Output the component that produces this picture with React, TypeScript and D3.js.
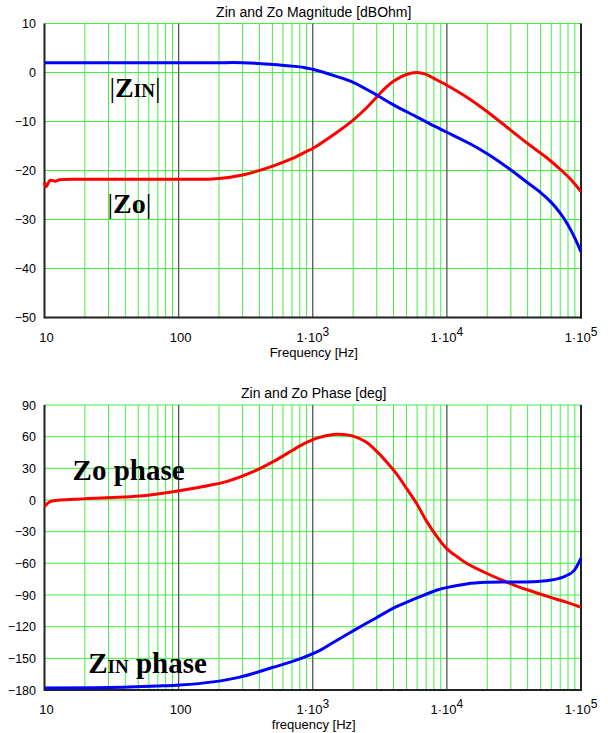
import React from "react";
import * as d3 from "d3";

// ---- Data: magnitude chart ----
const zinMagFreq = [10, 20, 50, 100, 190, 300, 480, 700, 800, 900, 1000, 1500, 2000, 3000, 4000, 6000, 8000, 10000, 15000, 20000, 30000, 40000, 50000, 60000, 70000, 80000, 90000, 100000];
const zinMag = [2.0, 2.0, 2.0, 2.0, 2.0, 2.0, 1.7, 1.3, 1.15, 0.9, 0.65, -0.8, -2.0, -4.6, -6.6, -9.1, -10.9, -12.2, -14.6, -16.6, -19.9, -22.5, -24.5, -26.5, -28.7, -31.1, -33.8, -36.6];
const zoMagFreq = [10, 10.3, 11, 12, 13, 20, 50, 100, 190, 300, 480, 700, 800, 900, 1000, 1500, 2000, 2500, 3000, 3500, 4000, 5000, 6000, 7000, 8000, 10000, 14000, 20000, 30000, 40000, 55000, 73000, 85000, 100000];
const zoMag = [-22.4, -23.3, -22.0, -22.2, -21.9, -21.8, -21.8, -21.8, -21.7, -20.9, -19.3, -17.6, -16.8, -16.1, -15.5, -12.3, -9.7, -7.3, -5.0, -3.1, -1.8, -0.4, 0.0, -0.4, -1.2, -2.6, -5.0, -8.0, -11.8, -14.5, -17.3, -20.2, -22.0, -24.3];

// ---- Data: phase chart ----
const zoPhaseFreq = [10, 11, 16.4, 29, 51.5, 91, 161, 227, 360, 507, 713, 850, 1060, 1420, 1690, 2000, 2500, 3000, 3500, 4200, 5000, 5930, 7050, 8360, 9930, 12000, 14000, 19700, 29400, 40300, 58400, 77800, 100000];
const zoPhase = [-6.3, -1.6, 0.6, 2.2, 3.8, 7.9, 13.3, 17.4, 26.8, 36.3, 47.4, 53.0, 58.4, 62.0, 62.0, 60.5, 55.0, 46.0, 37.0, 25.0, 11.0, -3.0, -20.0, -34.0, -45.8, -54.0, -60.0, -69.4, -78.9, -85.3, -92.0, -96.8, -101.7];
const zinPhaseFreq = [10, 38.7, 68.5, 102, 181, 286, 507, 802, 1130, 1420, 2000, 2985, 4210, 5930, 8360, 9930, 14000, 19700, 29400, 43800, 58400, 73400, 87000, 100000];
const zinPhase = [-178.0, -177.4, -176.3, -175.3, -172.3, -167.8, -158.5, -150.5, -142.5, -135.0, -124.0, -111.5, -101.0, -93.0, -85.5, -83.0, -79.5, -78.0, -77.7, -77.4, -76.0, -73.0, -68.0, -55.0];

// ---- Ticks ----
const decades = [10, 100, 1000, 10000, 100000];
const magTicks = [10, 0, -10, -20, -30, -40, -50];
const phaseTicks = [90, 60, 30, 0, -30, -60, -90, -120, -150, -180];

const W = 608;
const H = 733;
const LEFT = 44.5;
const RIGHT = 581;
const GREEN = "#44ee44";
const sans = "Liberation Sans, Arial, sans-serif";
const serif = "Liberation Serif, Times New Roman, serif";

const minorFreqs: number[] = [];
for (let d = 10; d < 100000; d *= 10) {
  for (let k = 2; k <= 9; k++) minorFreqs.push(d * k);
}

function fmtY(v: number) {
  return v < 0 ? "\u2212" + Math.abs(v) : String(v);
}

function XLabel({ f, x, y }: { f: number; x: number; y: number }) {
  if (f <= 100) {
    return (
      <text x={x} y={y} textAnchor="middle" fontFamily={sans} fontSize={13} fill="#000">
        {f}
      </text>
    );
  }
  const e = Math.round(Math.log10(f));
  return (
    <text x={x} y={y} textAnchor="middle" fontFamily={sans} fontSize={13} fill="#000">
      1·10<tspan dy={-6} fontSize={12}>{e}</tspan>
    </text>
  );
}

function Panel({
  top,
  bottom,
  domain,
  ticks,
  title,
  xTitle,
  series,
  children,
}: {
  top: number;
  bottom: number;
  domain: [number, number];
  ticks: number[];
  title: string;
  xTitle: string;
  series: { f: number[]; v: number[]; color: string }[];
  children?: (x: any, y: any) => React.ReactNode;
}) {
  const x = d3.scaleLog().domain([10, 100000]).range([LEFT, RIGHT]);
  const y = d3.scaleLinear().domain(domain).range([bottom, top]);
  const line = d3
    .line<[number, number]>()
    .x((d) => x(d[0]))
    .y((d) => y(d[1]))
    .curve(d3.curveCatmullRom.alpha(0.5));
  return (
    <g>
      <text x={(LEFT + RIGHT) / 2 + 1} y={top - 7} textAnchor="middle" fontFamily={sans} fontSize={14} fill="#000">
        {title}
      </text>
      {minorFreqs.map((f) => (
        <line key={"m" + f} x1={x(f)} x2={x(f)} y1={top} y2={bottom} stroke={GREEN} strokeWidth={1} />
      ))}
      {ticks.map((t) => (
        <line key={"h" + t} x1={LEFT} x2={RIGHT} y1={y(t)} y2={y(t)} stroke={GREEN} strokeWidth={1} />
      ))}
      {decades.slice(1, -1).map((f) => (
        <line key={"d" + f} x1={x(f)} x2={x(f)} y1={top} y2={bottom} stroke="#555" strokeWidth={1.3} />
      ))}
      <line x1={LEFT} x2={LEFT} y1={top} y2={bottom + 1} stroke="#222" strokeWidth={2} />
      <line x1={RIGHT} x2={RIGHT} y1={top} y2={bottom + 1} stroke="#222" strokeWidth={2} />
      <line x1={LEFT} x2={RIGHT + 1} y1={bottom} y2={bottom} stroke="#222" strokeWidth={2} />
      {series.map((s, i) => (
        <path
          key={"s" + i}
          d={line(s.f.map((f, j) => [f, s.v[j]] as [number, number])) || ""}
          fill="none"
          stroke={s.color}
          strokeWidth={3}
          strokeLinejoin="round"
        />
      ))}
      {ticks.map((t) => (
        <text key={"yl" + t} x={36} y={y(t) + 4.5} textAnchor="end" fontFamily={sans} fontSize={12.5} fill="#000">
          {fmtY(t)}
        </text>
      ))}
      {decades.map((f) => (
        <XLabel key={"xl" + f} f={f} x={x(f) + (f <= 100 ? 2 : 0)} y={bottom + 24} />
      ))}
      <text x={(LEFT + RIGHT) / 2 + 1} y={bottom + 39} textAnchor="middle" fontFamily={sans} fontSize={13} fill="#000">
        {xTitle}
      </text>
      {children && children(x, y)}
    </g>
  );
}

export default function App() {
  return (
    <svg
      width={W}
      height={H}
      viewBox={`0 0 ${W} ${H}`}
      style={{ position: "absolute", left: 0, top: 0, background: "#fff" }}
    >
      <rect width={W} height={H} fill="#fff" />
      <Panel
        top={23.5}
        bottom={317.5}
        domain={[-50, 10]}
        ticks={magTicks}
        title="Zin and Zo Magnitude [dBOhm]"
        xTitle="Frequency [Hz]"
        series={[
          { f: zoMagFreq, v: zoMag, color: "#ff0000" },
          { f: zinMagFreq, v: zinMag, color: "#0000ff" },
        ]}
      >
        {(x, y) => (
          <g fontFamily={serif} fill="#000">
            <text x={x(30.5)} y={y(-4.9)}>
              <tspan fontSize={28}>|</tspan>
              <tspan fontSize={28} fontWeight="bold">Z</tspan>
              <tspan fontSize={19} fontWeight="bold">IN</tspan>
              <tspan fontSize={28}>|</tspan>
            </text>
            <text x={x(29.5)} y={y(-28.7)}>
              <tspan fontSize={28}>|</tspan>
              <tspan fontSize={28} fontWeight="bold">Zo</tspan>
              <tspan fontSize={28}>|</tspan>
            </text>
          </g>
        )}
      </Panel>
      <Panel
        top={405}
        bottom={690}
        domain={[-180, 90]}
        ticks={phaseTicks}
        title="Zin and Zo Phase [deg]"
        xTitle="frequency  [Hz]"
        series={[
          { f: zoPhaseFreq, v: zoPhase, color: "#ff0000" },
          { f: zinPhaseFreq, v: zinPhase, color: "#0000ff" },
        ]}
      >
        {(x, y) => (
          <g fontFamily={serif} fill="#000" fontWeight="bold">
            <text x={x(16.2)} y={y(19)} fontSize={29}>
              Zo phase
            </text>
            <text x={x(21.2)} y={y(-163.6)}>
              <tspan fontSize={29}>Z</tspan>
              <tspan fontSize={19}>IN</tspan>
              <tspan fontSize={29}> phase</tspan>
            </text>
          </g>
        )}
      </Panel>
    </svg>
  );
}
